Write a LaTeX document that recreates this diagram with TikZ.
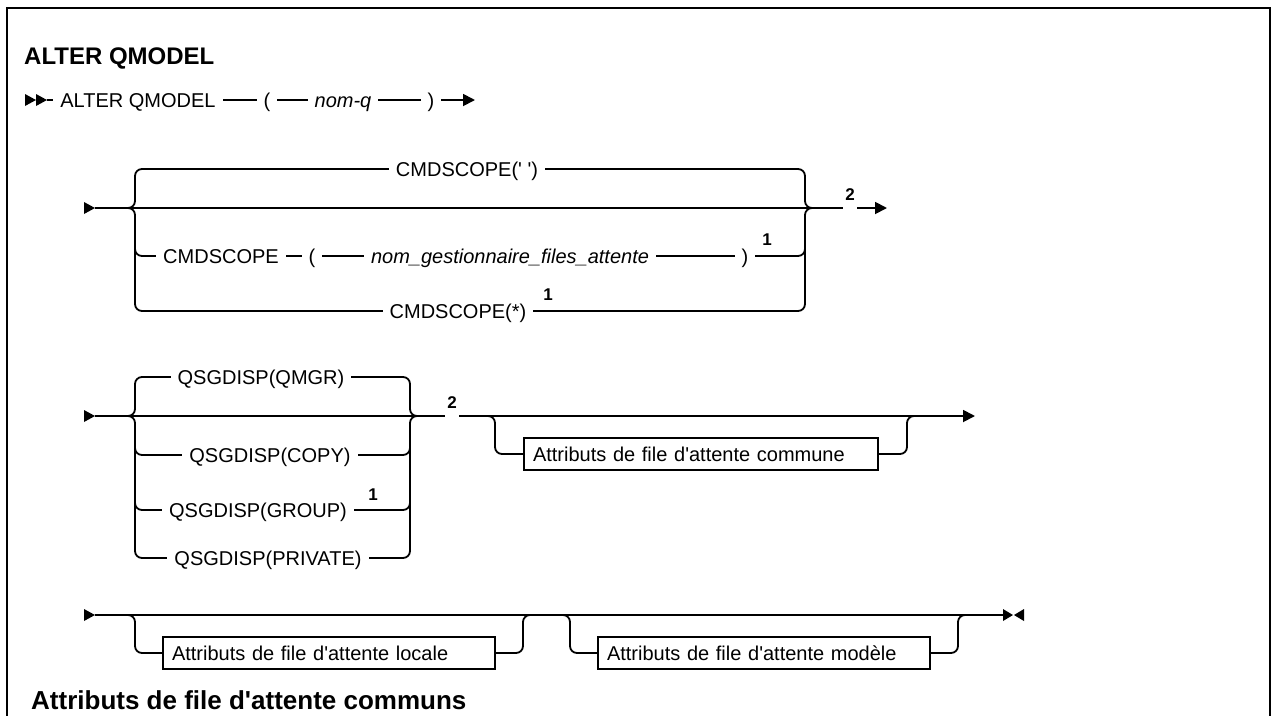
\documentclass[tikz,border=0pt]{standalone}
\usepackage{fontspec}
\setmainfont{Liberation Sans}[Ligatures=TeXOff]
\usetikzlibrary{arrows.meta,positioning,backgrounds}
\tikzset{
  ln/.style={line width=1.8pt},
  rc/.style={ln, rounded corners=7pt},
  arr/.style={ln, -{Triangle[length=12pt,width=12pt]}},
  kw/.style={fill=white, inner xsep=7pt, inner ysep=2pt, text height=14.3pt,
             text depth=0pt, font=\fontsize{20}{24}\selectfont},
  var/.style={kw, font=\fontsize{20}{24}\selectfont\itshape},
  fn/.style={inner sep=1pt, font=\fontsize{17}{20}\selectfont\bfseries},
  fngap/.style={fn, fill=white, anchor=base, text depth=9pt, inner xsep=2pt},
  attr/.style={draw, line width=1.8pt, fill=white, align=left, inner xsep=9pt,
               minimum height=32pt, font=\fontsize{20}{24}\selectfont},
  hd/.style={anchor=base west, inner sep=0pt, font=\bfseries\fontsize{24}{28}\selectfont},
  subhd/.style={hd, font=\bfseries\fontsize{26}{30}\selectfont},
}

\begin{document}
\begin{tikzpicture}[x=1pt, y=-1pt]
  \useasboundingbox (0,0) rectangle (1274,715);
  \draw[line width=2.4pt] (7,716) -- (7,8) -- (1270,8) -- (1270,716);

  \node[hd] (title) at (24,64) {ALTER QMODEL};

  % ALTER QMODEL ( nom-q )
  \fill (25,94) -- (36,100) -- (25,106) -- cycle;
  \fill (36,94) -- (47,100) -- (36,106) -- cycle;
  \coordinate (s1) at (47,100);
  \node[kw] (alter) at (138,100) {ALTER QMODEL};
  \node[kw] (lp1) at (267,100) {(};
  \node[var] (nomq) at (343,100) {nom-q};
  \node[kw] (rp1) at (431,100) {)};
  \coordinate (e1) at (475,100);

  % CMDSCOPE
  \fill (84,202) -- (95,208) -- (84,214) -- cycle;
  \coordinate (s2) at (95,208);
  \node[kw] (cmdA) at (467,169) {CMDSCOPE(' ')};
  \node[kw] (cmdB) at (221,256) {CMDSCOPE};
  \node[kw] (lp2) at (312,256) {(};
  \node[var] (qmname) at (510,256) {nom\_gestionnaire\_files\_attente};
  \node[kw] (rp2) at (745,256) {)};
  \node[fn] (n1a) at (767,240) {1};
  \node[kw] (cmdC) at (458,311) {CMDSCOPE(*)};
  \node[fn] (n1b) at (548,295) {1};
  \node[fngap] (n2a) at (850,200) {2};
  \coordinate (e2) at (887,208);

  % QSGDISP
  \fill (84,410) -- (95,416) -- (84,422) -- cycle;
  \coordinate (s3) at (95,416);
  \node[kw] (qmgr) at (261,377) {QSGDISP(QMGR)};
  \node[kw] (copy) at (270,455) {QSGDISP(COPY)};
  \node[kw] (group) at (258,510) {QSGDISP(GROUP)};
  \node[fn] (n1c) at (373,495) {1};
  \node[kw] (priv) at (268,558) {QSGDISP(PRIVATE)};
  \node[fngap] (n2b) at (452,408) {2};
  \node[attr, text width=336pt] (common) at (701,454) {Attributs de file d'attente commune};
  \coordinate (e3) at (975,416);

  % attributs locale / modele
  \fill (84,609) -- (95,615) -- (84,621) -- cycle;
  \coordinate (s4) at (95,615);
  \node[attr, text width=314pt] (local) at (329,653) {Attributs de file d'attente locale};
  \node[attr, text width=314pt] (model) at (764,653) {Attributs de file d'attente modèle};
  \coordinate (e4) at (1003,615);
  \fill (1003,609) -- (1013,615) -- (1003,621) -- cycle;
  \fill (1024,609) -- (1014,615) -- (1024,621) -- cycle;

  \node[subhd] (sub) at (31,709) {Attributs de file d'attente communs};

  \begin{scope}[on background layer]
    \draw[arr] (s1) -- (e1);

    \draw[arr] (s2) -- (e2);
    \draw[rc] (145,169) -- (135,169) -- (135,208) -- (127,208);
    \draw[rc] (127,208) -- (135,208) -- (135,311) -- (145,311);
    \draw[rc] (135,244) -- (135,256) -- (147,256);
    \draw[rc] (795,169) -- (805,169) -- (805,208) -- (813,208);
    \draw[rc] (813,208) -- (805,208) -- (805,311) -- (795,311);
    \draw[rc] (793,256) -- (805,256) -- (805,244);
    \draw[ln] (145,169) -- (795,169);
    \draw[ln] (147,256) -- (793,256);
    \draw[ln] (145,311) -- (795,311);

    \draw[arr] (s3) -- (e3);
    \draw[rc] (145,377) -- (135,377) -- (135,416) -- (127,416);
    \draw[rc] (127,416) -- (135,416) -- (135,558) -- (145,558);
    \draw[rc] (135,443) -- (135,455) -- (147,455);
    \draw[rc] (135,498) -- (135,510) -- (147,510);
    \draw[rc] (400,377) -- (410,377) -- (410,416) -- (418,416);
    \draw[rc] (418,416) -- (410,416) -- (410,558) -- (400,558);
    \draw[rc] (398,455) -- (410,455) -- (410,443);
    \draw[rc] (398,510) -- (410,510) -- (410,498);
    \draw[ln] (145,377) -- (400,377);
    \draw[ln] (147,455) -- (398,455);
    \draw[ln] (147,510) -- (398,510);
    \draw[ln] (145,558) -- (400,558);
    \draw[rc] (485,416) -- (495,416) -- (495,454) -- (common.west);
    \draw[rc] (common.east) -- (907,454) -- (907,416) -- (917,416);

    \draw[ln] (s4) -- (e4);
    \draw[rc] (125,615) -- (135,615) -- (135,653) -- (local.west);
    \draw[rc] (local.east) -- (523,653) -- (523,615) -- (533,615);
    \draw[rc] (560,615) -- (570,615) -- (570,653) -- (model.west);
    \draw[rc] (model.east) -- (958,653) -- (958,615) -- (968,615);
  \end{scope}
\end{tikzpicture}
\end{document}
